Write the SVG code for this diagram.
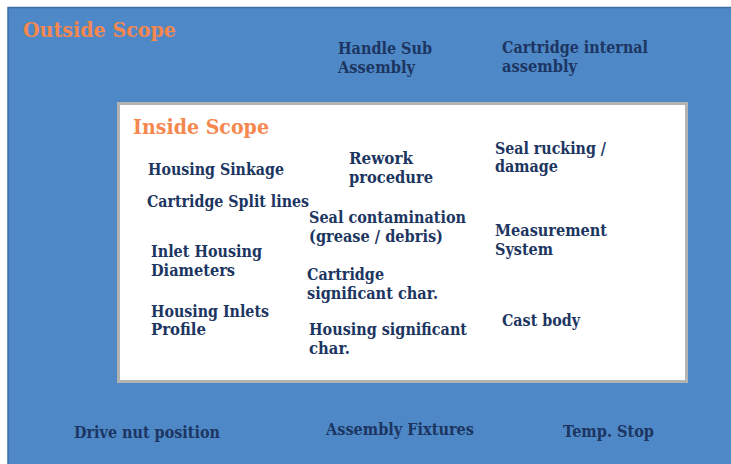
<svg xmlns="http://www.w3.org/2000/svg" width="731" height="464" viewBox="0 0 731 464">
<style>
text{font-family:"DejaVu Serif","Liberation Serif",serif;font-weight:bold;}
.t{font-size:16px;fill:#1c3561;}
.h{font-size:20.5px;fill:#f5874f;}
</style>
<rect width="731" height="464" fill="#ffffff"/>
<g id="outside">
<rect x="8" y="7.5" width="740" height="470" fill="#4e88c7" stroke="#3b6ea8" stroke-width="1.5"/>
<text class="h" x="23" y="37" textLength="153" lengthAdjust="spacingAndGlyphs">Outside Scope</text>
</g>
<g id="inside">
<rect x="118.5" y="103.5" width="568" height="278" fill="#ffffff" stroke="#b3b3b3" stroke-width="3"/>
<text class="h" x="133" y="134" textLength="136" lengthAdjust="spacingAndGlyphs">Inside Scope</text>
</g>
<g id="connectors"></g>
<g id="n-handle"><text class="t" x="338" y="54" textLength="94" lengthAdjust="spacingAndGlyphs">Handle Sub</text><text class="t" x="338" y="73" textLength="77" lengthAdjust="spacingAndGlyphs">Assembly</text></g>
<g id="n-cartint"><text class="t" x="502" y="53" textLength="146" lengthAdjust="spacingAndGlyphs">Cartridge internal</text><text class="t" x="502" y="72" textLength="75" lengthAdjust="spacingAndGlyphs">assembly</text></g>
<g id="n-sinkage"><text class="t" x="148" y="175" textLength="136" lengthAdjust="spacingAndGlyphs">Housing Sinkage</text></g>
<g id="n-rework"><text class="t" x="349" y="164" textLength="64" lengthAdjust="spacingAndGlyphs">Rework</text><text class="t" x="349" y="183" textLength="84" lengthAdjust="spacingAndGlyphs">procedure</text></g>
<g id="n-seal"><text class="t" x="495" y="154" textLength="111" lengthAdjust="spacingAndGlyphs">Seal rucking /</text><text class="t" x="495" y="172" textLength="63" lengthAdjust="spacingAndGlyphs">damage</text></g>
<g id="n-split"><text class="t" x="147" y="207" textLength="162" lengthAdjust="spacingAndGlyphs">Cartridge Split lines</text></g>
<g id="n-contam"><text class="t" x="309" y="223" textLength="157" lengthAdjust="spacingAndGlyphs">Seal contamination</text><text class="t" x="309" y="242" textLength="134" lengthAdjust="spacingAndGlyphs">(grease / debris)</text></g>
<g id="n-measure"><text class="t" x="495" y="236" textLength="112" lengthAdjust="spacingAndGlyphs">Measurement</text><text class="t" x="495" y="255" textLength="58" lengthAdjust="spacingAndGlyphs">System</text></g>
<g id="n-inlet"><text class="t" x="151" y="257" textLength="111" lengthAdjust="spacingAndGlyphs">Inlet Housing</text><text class="t" x="151" y="276" textLength="84" lengthAdjust="spacingAndGlyphs">Diameters</text></g>
<g id="n-cartsig"><text class="t" x="307" y="280" textLength="77" lengthAdjust="spacingAndGlyphs">Cartridge</text><text class="t" x="307" y="299" textLength="131" lengthAdjust="spacingAndGlyphs">significant char.</text></g>
<g id="n-profile"><text class="t" x="151" y="317" textLength="118" lengthAdjust="spacingAndGlyphs">Housing Inlets</text><text class="t" x="151" y="335" textLength="55" lengthAdjust="spacingAndGlyphs">Profile</text></g>
<g id="n-cast"><text class="t" x="502" y="326" textLength="78" lengthAdjust="spacingAndGlyphs">Cast body</text></g>
<g id="n-housig"><text class="t" x="309" y="335" textLength="158" lengthAdjust="spacingAndGlyphs">Housing significant</text><text class="t" x="309" y="354" textLength="41" lengthAdjust="spacingAndGlyphs">char.</text></g>
<g id="n-drive"><text class="t" x="74" y="438" textLength="146" lengthAdjust="spacingAndGlyphs">Drive nut position</text></g>
<g id="n-fixtures"><text class="t" x="326" y="435" textLength="148" lengthAdjust="spacingAndGlyphs">Assembly Fixtures</text></g>
<g id="n-temp"><text class="t" x="563" y="437" textLength="91" lengthAdjust="spacingAndGlyphs">Temp. Stop</text></g>
</svg>
